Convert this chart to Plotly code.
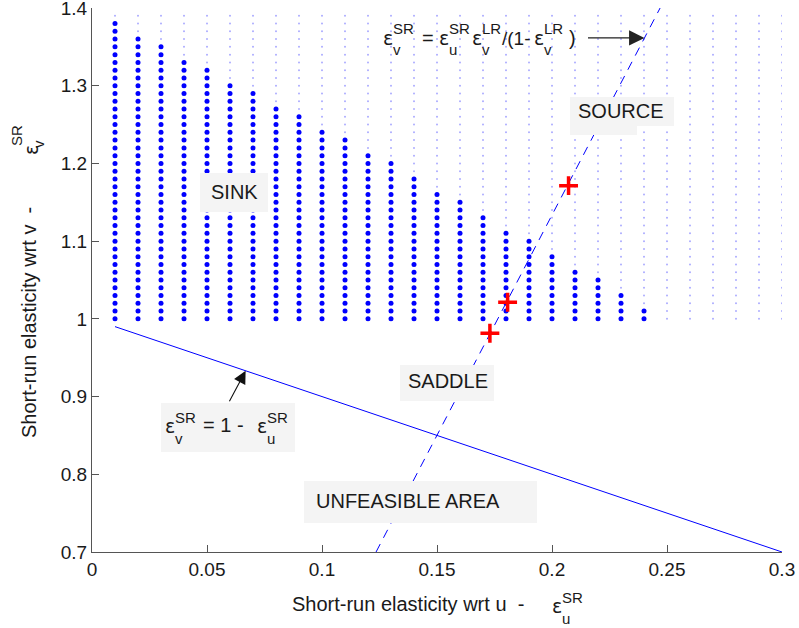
import plotly.graph_objects as go

FONT = "Liberation Sans, Arial, sans-serif"
GREEK = "DejaVu Sans, Liberation Sans, sans-serif"
INK = "#1a1a1a"

# Parameter grid (short-run elasticities)
u_grid = [0.01, 0.02, 0.03, 0.04, 0.05, 0.06, 0.07, 0.08, 0.09, 0.10,
          0.11, 0.12, 0.13, 0.14, 0.15, 0.16, 0.17, 0.18, 0.19, 0.20,
          0.21, 0.22, 0.23, 0.24, 0.25, 0.26, 0.27, 0.28, 0.29, 0.30]
v_grid = [1.00, 1.01, 1.02, 1.03, 1.04, 1.05, 1.06, 1.07, 1.08, 1.09,
          1.10, 1.11, 1.12, 1.13, 1.14, 1.15, 1.16, 1.17, 1.18, 1.19,
          1.20, 1.21, 1.22, 1.23, 1.24, 1.25, 1.26, 1.27, 1.28, 1.29,
          1.30, 1.31, 1.32, 1.33, 1.34, 1.35, 1.36, 1.37, 1.38, 1.39]
# highest v that is still a sink, per u column (None: no sink)
sink_top_v = [1.38, 1.36, 1.35, 1.33, 1.32, 1.30, 1.29, 1.27, 1.26, 1.24,
              1.23, 1.21, 1.20, 1.18, 1.16, 1.15, 1.13, 1.11, 1.10, 1.08,
              1.06, 1.05, 1.03, 1.01, None, None, None, None, None, None]

# feasibility boundary  eps_v = 1 - eps_u
boundary_u = [0.01, 0.30]
boundary_v = [0.99, 0.70]
# saddle boundary  eps_v = eps_u * eps_v_LR / (1 - eps_v_LR)
saddle_u = [0.1235, 0.247]
saddle_v = [0.70, 1.40]
# highlighted equilibria
marked_u = [0.173, 0.1807, 0.2072]
marked_v = [0.9815, 1.0214, 1.1714]

x_ticks = [0, 0.05, 0.10, 0.15, 0.20, 0.25, 0.30]
x_ticktext = ["0", "0.05", "0.1", "0.15", "0.2", "0.25", "0.3"]
y_ticks = [0.7, 0.8, 0.9, 1.0, 1.1, 1.2, 1.3, 1.4]
y_ticktext = ["0.7", "0.8", "0.9", "1", "1.1", "1.2", "1.3", "1.4"]

sink_u, sink_v, other_u, other_v = [], [], [], []
for u, top in zip(u_grid, sink_top_v):
    for v in v_grid:
        if top is not None and v <= top + 1e-9:
            sink_u.append(u)
            sink_v.append(v)
        else:
            other_u.append(u)
            other_v.append(v)

fig = go.Figure()
fig.add_trace(go.Scatter(x=other_u, y=other_v, mode="markers",
                         marker=dict(size=2, color="rgba(70,70,255,0.45)"),
                         hoverinfo="skip"))
fig.add_trace(go.Scatter(x=sink_u, y=sink_v, mode="markers",
                         marker=dict(size=5, color="#0000ff"),
                         hoverinfo="skip"))
fig.add_trace(go.Scatter(x=boundary_u, y=boundary_v, mode="lines",
                         line=dict(color="#0000ff", width=1)))
fig.add_trace(go.Scatter(x=saddle_u, y=saddle_v, mode="lines",
                         line=dict(color="#0000ff", width=1, dash="9px,7px")))
fig.add_trace(go.Scatter(x=marked_u, y=marked_v, mode="markers",
                         marker=dict(symbol="cross-thin", size=13.5,
                                     line=dict(color="#ff0000", width=3.5))))

# plot-area geometry in pixels, used to place the text pieces
L, R, T, B = 92, 782, 8, 552


def to_paper(px, py):
    return (px - L) / (R - L), (B - py) / (B - T)


annotations = []
shapes = []


def text(s, px, py, size=20, xanchor="left", angle=0, family=FONT):
    x, y = to_paper(px, py)
    annotations.append(dict(text=s, x=x, y=y, xref="paper", yref="paper",
                            xanchor=xanchor, yanchor="middle", showarrow=False,
                            textangle=angle, borderpad=0,
                            font=dict(family=family, size=size, color=INK)))


def eps(px, py, sub, sup):
    # epsilon with stacked subscript / superscript
    text("ε", px, py, size=19, family=GREEK)
    text(sup, px + 10, py - 9, size=15)
    text(sub, px + 10, py + 12, size=15)


def eps_vertical(px, py, sub, sup):
    text("ε", px, py, size=19, xanchor="center", angle=-90, family=GREEK)
    text(sup, px - 15, py - 14, size=15, xanchor="center", angle=-90)
    text(sub, px + 7, py - 6, size=15, xanchor="center", angle=-90)


def box(x0, y0, x1, y1):
    a0, b0 = to_paper(x0, y0)
    a1, b1 = to_paper(x1, y1)
    shapes.append(dict(type="rect", xref="paper", yref="paper",
                       x0=a0, x1=a1, y0=b1, y1=b0, layer="above",
                       fillcolor="#f4f4f4", line=dict(width=0)))


# region labels
box(200, 173, 268, 212)
text("SINK", 234, 192, xanchor="center")
box(570, 97, 674, 126)
box(570, 97, 637, 135)
text("SOURCE", 621, 111, xanchor="center")
box(400, 365, 494, 401)
text("SADDLE", 448, 381, xanchor="center")
box(304, 481, 537, 523)
text("UNFEASIBLE AREA", 408, 501, xanchor="center")

# eps_v = 1 - eps_u
box(161, 403, 295, 452)
eps(164, 426, "v", "SR")
text("= 1 -", 202, 425)
eps(256, 426, "u", "SR")

# eps_v = eps_u eps_v^LR / (1 - eps_v^LR)
eps(382, 38, "v", "SR")
text("=", 421, 38)
eps(438, 38, "u", "SR")
eps(471, 38, "v", "LR")
text("/(1-", 501, 38, size=19)
eps(533, 38, "v", "LR")
text(")", 568, 38)

# axis titles
text("Short-run elasticity wrt u  -", 291, 604)
eps(551, 606, "u", "SR")
text("Short-run elasticity wrt v  -", 29, 323, xanchor="center", angle=-90)
eps_vertical(31, 150, "v", "SR")

# arrows pointing at the two boundaries
arrow_u1 = 0.0668
arrow_v1 = boundary_v[0] + (arrow_u1 - boundary_u[0]) * (boundary_v[1] - boundary_v[0]) / (boundary_u[1] - boundary_u[0])
annotations.append(dict(x=arrow_u1, y=arrow_v1, xref="x", yref="y", text="",
                        showarrow=True, ax=-17, ay=32, arrowhead=2,
                        arrowsize=2.3, arrowwidth=1.1, arrowcolor="#111"))
arrow_v2 = 1.3615
arrow_u2 = saddle_u[0] + (arrow_v2 - saddle_v[0]) * (saddle_u[1] - saddle_u[0]) / (saddle_v[1] - saddle_v[0])
annotations.append(dict(x=arrow_u2, y=arrow_v2, xref="x", yref="y", text="",
                        showarrow=True, ax=-58, ay=0, arrowhead=2,
                        arrowsize=2.8, arrowwidth=1.1, arrowcolor="#222"))

axis_common = dict(showline=True, linecolor="#555", linewidth=1, ticks="inside",
                   ticklen=7, tickcolor="#555", showgrid=False, zeroline=False,
                   ticklabeloverflow="allow", automargin=False,
                   tickfont=dict(family=FONT, size=19, color=INK))
fig.update_layout(
    width=799, height=628,
    margin=dict(l=L, r=799 - R, t=T, b=628 - B, autoexpand=False),
    paper_bgcolor="white", plot_bgcolor="white",
    showlegend=False,
    xaxis=dict(range=[0, 0.3], tickvals=x_ticks, ticktext=x_ticktext, **axis_common),
    yaxis=dict(range=[0.7, 1.4], tickvals=y_ticks, ticktext=y_ticktext, **axis_common),
    annotations=annotations,
    shapes=shapes,
)
fig.write_html("out.html")
